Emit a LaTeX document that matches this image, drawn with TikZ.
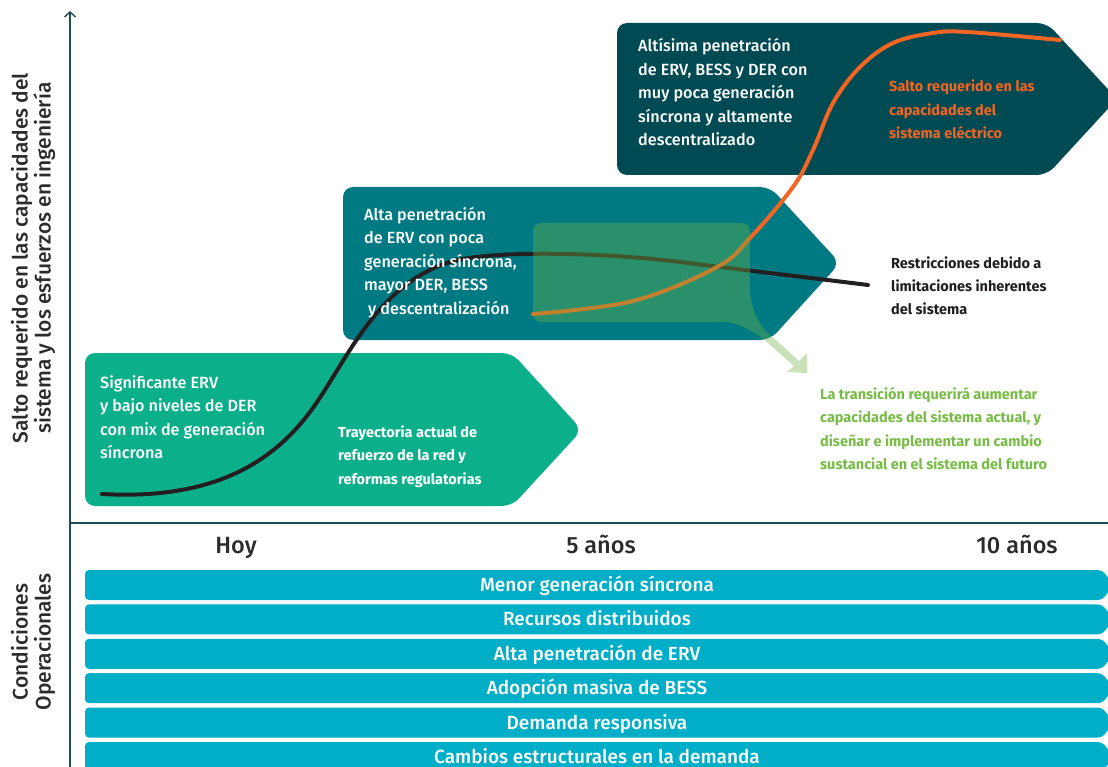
\documentclass[tikz,border=0pt]{standalone}
\usepackage{fontspec}
\setmainfont{Fira Sans}
\newfontfamily\fmed{Fira Sans Medium}
\usetikzlibrary{arrows.meta}
\definecolor{cgreen}{HTML}{0BB08A}
\definecolor{cteal}{HTML}{007A82}
\definecolor{cdark}{HTML}{004A54}
\definecolor{cbar}{HTML}{00AEC7}
\definecolor{corange}{HTML}{F26522}
\definecolor{cblack}{HTML}{231F20}
\definecolor{ctxtgreen}{HTML}{77BC45}
\definecolor{covl}{RGB}{113,179,71}
\definecolor{caxis}{HTML}{1E4D57}
\definecolor{clabel}{HTML}{2B2B2B}
\begin{document}
\begin{tikzpicture}[x=1pt,y=-1pt,
  boxtext/.style={anchor=base west, align=left, inner sep=0pt, text=white, font=\fmed\fontsize{16.2}{23.5}\selectfont},
  smalltext/.style={anchor=base west, align=left, inner sep=0pt, font=\bfseries\fontsize{14.5}{23.5}\selectfont},
  axislabel/.style={anchor=base, inner sep=0pt, text=clabel, font=\fmed\fontsize{23.5}{24}\selectfont},
  sidelabel/.style={rotate=90, align=center, inner sep=0pt, text=clabel, font=\fmed\fontsize{21}{23}\selectfont},
  barlabel/.style={anchor=base, inner sep=0pt, text=white, font=\fmed\fontsize{19}{20}\selectfont},
  curve/.style={line width=4pt, line cap=round},
  axisline/.style={caxis, line width=1.4pt}]
\useasboundingbox (0,0) rectangle (1108,767);
\clip (0,0) rectangle (1108,767);
% stage boxes
\fill[cgreen, rounded corners=10pt] (85,353) -- (512,353) -- (582,430) -- (512,506) -- (85,506) -- cycle;
\fill[cteal, rounded corners=10pt] (343,187) -- (770,187) -- (840,263) -- (770,340) -- (343,340) -- cycle;
\fill[cdark, rounded corners=10pt] (617,23) -- (1047,23) -- (1117,99) -- (1047,175) -- (617,175) -- cycle;
% curves
\draw[curve, cblack] (102,494) .. controls (210,500) and (270,465) .. (310,412)
  .. controls (345,365) and (375,285) .. (450,262)
  .. controls (490,250) and (600,252) .. (680,262)
  .. controls (760,272) and (820,279) .. (868,285);
\draw[curve, corange] plot[smooth, tension=0.6] coordinates {(533,314) (633,301) (717,267) (750,238) (793,187) (813,150) (833,103) (860,67) (893,43) (933,33) (967,32) (1060,40)};
% translucent overlay with arrow
\fill[covl, fill opacity=0.38] (640,223) [rounded corners=8pt] -- (750,223) -- (750,260) [sharp corners] -- (750,292) .. controls (752,315) and (762,330) .. (776,340) -- (799,361) -- (807,353) -- (807,373) -- (787,372) -- (794,366) -- (768,343) .. controls (757,333) and (742,325) .. (728,322) [rounded corners=8pt] -- (533,322) -- (533,223) -- cycle;
% axes
\draw[axisline, -{Straight Barb[length=5pt,width=11pt]}] (70,767) -- (70,11);
\draw[axisline] (70,523) -- (1108,523);
% texts (anchor at baseline of last line)
\node[boxtext] (t1) at (100,458.5) {Significante ERV\\y bajo niveles de DER\\con mix de generación\\síncrona};
\node[boxtext] (t2) at (364,314) {Alta penetración\\de ERV con poca\\generación síncrona,\\mayor DER, BESS\\\hspace*{4pt}y descentralización};
\node[boxtext] (t3) at (638,146) {Altísima penetración\\de ERV, BESS y DER con\\muy poca generación\\síncrona y altamente\\descentralizado};
\node[smalltext, text=white] (traj) at (338,484) {Trayectoria actual de\\refuerzo de la red y\\reformas regulatorias};
\node[smalltext, text=corange] (salto) at (889,139) {Salto requerido en las\\capacidades del\\sistema eléctrico};
\node[smalltext, text=cblack] (restr) at (891,315) {Restricciones debido a\\limitaciones inherentes\\del sistema};
\node[smalltext, text=ctxtgreen] (trans) at (820,469.5) {La transición requerirá aumentar\\capacidades del sistema actual, y\\diseñar e implementar un cambio\\sustancial en el sistema del futuro};
\node[sidelabel] (ylab) at (33,258) {Salto requerido en las capacidades del\\sistema y los esfuerzos en ingeniería};
\node[sidelabel] (oplab) at (33,642) {Condiciones\\Operacionales};
\node[axislabel] (hoy) at (236,553) {Hoy};
\node[axislabel] (cinco) at (601,553) {5 años};
\node[axislabel] (diez) at (1017,553) {10 años};
% bars
\foreach \i/\t in {0/Menor generación síncrona,1/Recursos distribuidos,2/Alta penetración de ERV,3/Adopción masiva de BESS,4/Demanda responsiva,5/Cambios estructurales en la demanda}{
  \pgfmathsetmacro{\ya}{570+34.4*\i}
  \pgfmathsetmacro{\ym}{\ya+15}
  \pgfmathsetmacro{\yb}{\ya+30}
  \pgfmathsetmacro{\yt}{\ya+21.5}
  \fill[cbar, rounded corners=4pt] (85,\ya) -- (1102,\ya) -- (1114,\ym) -- (1102,\yb) -- (85,\yb) -- cycle;
  \node[barlabel] (bar\i) at (597,\yt) {\t};
}
\end{tikzpicture}
\end{document}
